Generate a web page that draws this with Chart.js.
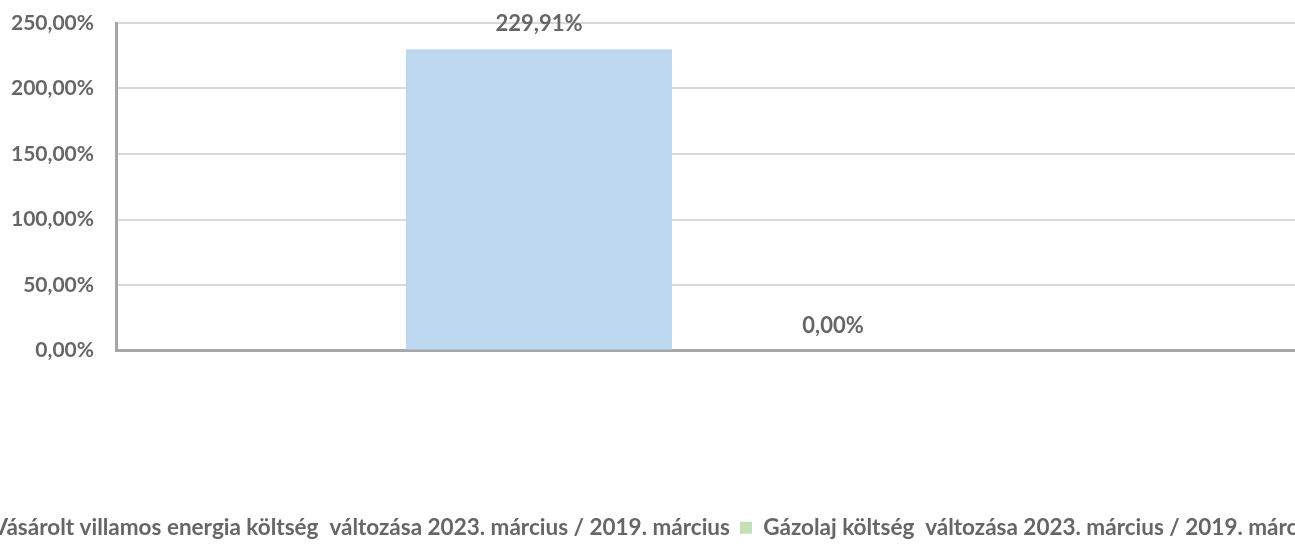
<!DOCTYPE html>
<html>
<head>
<meta charset="utf-8">
<script src="https://cdn.jsdelivr.net/npm/chart.js@4/dist/chart.umd.min.js"></script>
<style>
  html, body { margin: 0; padding: 0; background: #ffffff; overflow: hidden; width: 1295px; height: 544px; }
  #wrap { position: absolute; left: -100px; top: 0; width: 1495px; height: 544px; }
</style>
</head>
<body>
<div id="wrap"><canvas id="c"></canvas></div>
<script>
const categories = [''];
const seriesNames = [
  'Vásárolt villamos energia költség  változása 2023. március / 2019. március',
  'Gázolaj költség  változása 2023. március / 2019. március'
];
const villamosValues = [229.91];
const gazolajValues = [0];
const yMin = 0, yMax = 250, yStep = 50;

const TEXT = '#666666';
const FONT = 'Lato';

function pct(v) { return Number(v).toFixed(2).replace('.', ',') + '%'; }

const extendPlugin = {
  id: 'extendGrid',
  afterDraw(chart) {
    const ctx = chart.ctx, a = chart.chartArea, y = chart.scales.y;
    ctx.save();
    ctx.strokeStyle = '#d9d9d9';
    ctx.lineWidth = 2;
    y.ticks.forEach(t => {
      if (t.value === 0) return;
      const py = Math.round(y.getPixelForValue(t.value));
      ctx.beginPath(); ctx.moveTo(a.right, py); ctx.lineTo(chart.width, py); ctx.stroke();
    });
    ctx.strokeStyle = '#a6a6a6';
    ctx.lineWidth = 3;
    const py0 = y.getPixelForValue(0);
    ctx.beginPath(); ctx.moveTo(a.right - 2, py0); ctx.lineTo(chart.width, py0); ctx.stroke();
    ctx.restore();
  }
};

const labelPlugin = {
  id: 'barLabels',
  afterDatasetsDraw(chart) {
    const ctx = chart.ctx;
    ctx.save();
    ctx.font = 'bold 22px ' + FONT;
    ctx.fillStyle = TEXT;
    ctx.textAlign = 'center';
    ctx.textBaseline = 'alphabetic';
    chart.data.datasets.forEach((ds, i) => {
      chart.getDatasetMeta(i).data.forEach((bar, j) => {
        ctx.fillText(pct(ds.data[j]), bar.x, bar.y - 18);
      });
    });
    ctx.restore();
  }
};

new Chart(document.getElementById('c'), {
  type: 'bar',
  data: {
    labels: categories,
    datasets: [
      { label: seriesNames[0], data: villamosValues, backgroundColor: '#BDD7EE', borderWidth: 0 },
      { label: seriesNames[1], data: gazolajValues, backgroundColor: '#C5E0B4', borderWidth: 0 }
    ]
  },
  options: {
    responsive: true,
    maintainAspectRatio: false,
    animation: false,
    categoryPercentage: 0.5158,
    barPercentage: 0.9048,
    layout: { padding: { left: 0, right: 0, top: 23, bottom: -5 } },
    plugins: {
      legend: {
        position: 'bottom',
        labels: {
          font: { family: FONT, size: 22.5, weight: 'bold' },
          color: TEXT,
          boxWidth: 12,
          boxHeight: 12,
          padding: 10
        }
      },
      tooltip: { enabled: false }
    },
    scales: {
      x: {
        grid: { display: false },
        border: { display: true, color: '#a6a6a6', width: 3 },
        ticks: { display: false },
        afterFit(scale) { scale.height = 156; scale.paddingLeft = 0; scale.paddingRight = 0; }
      },
      y: {
        min: yMin, max: yMax,
        grid: { color: '#d9d9d9', lineWidth: 2, drawTicks: false },
        border: { display: true, color: '#a6a6a6', width: 3 },
        ticks: {
          stepSize: yStep,
          padding: 22,
          color: TEXT,
          font: { family: FONT, size: 21, weight: 'bold' },
          callback: v => pct(v)
        },
        afterFit(scale) { scale.width = 216; scale.paddingTop = 0; scale.paddingBottom = 0; }
      },
      yR: {
        position: 'right',
        display: true,
        grid: { display: false, drawTicks: false },
        border: { display: false },
        ticks: { display: false },
        afterFit(scale) { scale.width = 139; scale.paddingTop = 0; scale.paddingBottom = 0; }
      }
    }
  },
  plugins: [extendPlugin, labelPlugin]
});
</script>
</body>
</html>
